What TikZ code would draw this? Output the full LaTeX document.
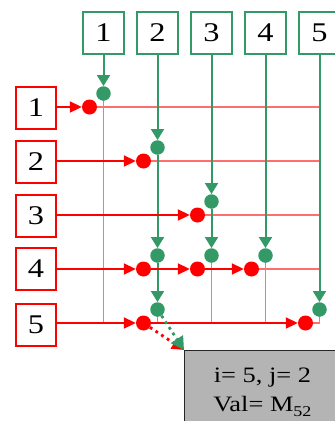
\documentclass[tikz,border=0pt]{standalone}
\usepackage{fontspec}
\setmainfont[FakeStretch=1.2]{Liberation Serif}
\usetikzlibrary{arrows.meta}
\definecolor{gr}{RGB}{51,153,102}
\definecolor{rd}{RGB}{255,0,0}
\definecolor{lgr}{RGB}{110,185,145}
\definecolor{lrd}{RGB}{255,110,110}
\definecolor{boxgray}{RGB}{180,180,180}
\begin{document}
\begin{tikzpicture}[x=1pt,y=-1pt,
  gbox/.style={draw=gr,line width=1.8pt,minimum width=41pt,minimum height=42pt,inner sep=0pt,font=\fontsize{27}{28}\selectfont},
  rbox/.style={draw=rd,line width=1.8pt,minimum width=40pt,minimum height=42pt,inner sep=0pt,font=\fontsize{27}{28}\selectfont},
  gdot/.style={circle,fill=gr,minimum size=14.5pt,inner sep=0pt},
  rdot/.style={circle,fill=rd,minimum size=15pt,inner sep=0pt},
  garr/.style={draw=gr,line width=2pt,-{Triangle[width=13pt,length=11pt]}},
  rarr/.style={draw=rd,line width=2pt,-{Triangle[width=11pt,length=12pt]}},
  gthin/.style={draw=lgr,line width=1.1pt},
  rthin/.style={draw=lrd,line width=1.1pt},
  gdotted/.style={draw=gr,line width=2.8pt,dash pattern=on 2.8pt off 4pt,-{Triangle[width=14pt,length=13pt]}},
  rdotted/.style={draw=rd,line width=2.8pt,dash pattern=on 2.8pt off 4pt,-{Triangle[width=12pt,length=12pt]}},
]
\useasboundingbox (0,0) rectangle (335,421);

% column header boxes
\node[gbox] (G1) at (103.5,33) {1};
\node[gbox] (G2) at (157.5,33) {2};
\node[gbox] (G3) at (211.5,33) {3};
\node[gbox] (G4) at (265.5,33) {4};
\node[gbox] (G5) at (319.5,33) {5};
% row header boxes
\node[rbox] (R1) at (36,108) {1};
\node[rbox] (R2) at (36,162) {2};
\node[rbox] (R3) at (36,216) {3};
\node[rbox] (R4) at (36,269) {4};
\node[rbox] (R5) at (36,325) {5};

% grid end coordinates
\coordinate (h1) at (319.5,107);
\coordinate (h2) at (319.5,161);
\coordinate (h3) at (319.5,215);
\coordinate (h4) at (319.5,269);
\coordinate (h5) at (319.5,323);
\coordinate (v1) at (103.5,323);
\coordinate (v2) at (157.5,323);
\coordinate (v3) at (211.5,323);
\coordinate (v4) at (265.5,323);
\coordinate (v5) at (319.5,323);

% dot positions
\coordinate (pg11) at (103.5,93.5);  \coordinate (pr11) at (89.5,107);
\coordinate (pg22) at (157.5,147.5); \coordinate (pr22) at (143.5,161);
\coordinate (pg33) at (211.5,201.5); \coordinate (pr33) at (197.5,215);
\coordinate (pg42) at (157.5,255.5); \coordinate (pr42) at (143.5,269);
\coordinate (pg43) at (211.5,255.5); \coordinate (pr43) at (197.5,269);
\coordinate (pg44) at (265.5,255.5); \coordinate (pr44) at (251.5,269);
\coordinate (pg52) at (157.5,309.5); \coordinate (pr52) at (143.5,323);
\coordinate (pg55) at (319.5,309.5); \coordinate (pr55) at (305.5,323);

% thin grid lines
\draw[rthin] (pr11) -- (h1);
\draw[rthin] (pr22) -- (h2);
\draw[rthin] (pr33) -- (h3);
\draw[rthin] (pr44) -- (h4);
\draw[rthin] (pr55) -- (h5);
\draw[gthin] (pg11) -- (v1);
\draw[gthin] (pg52) -- (v2);
\draw[gthin] (pg43) -- (v3);
\draw[gthin] (pg44) -- (v4);
\draw[gthin] (pg55) -- (v5);

% info box
\node[draw=black!85,fill=boxgray,line width=0.8pt,anchor=north west,
      minimum width=156pt,minimum height=84pt,inner sep=0pt,align=center,
      font=\fontsize{22}{29}\selectfont] (info) at (184,350)
      {i= 5, j= 2\\Val= M\raisebox{-5pt}{\fontsize{15}{15}\selectfont 52}};

% dot nodes
\node[gdot] (g11) at (pg11) {}; \node[rdot] (r11) at (pr11) {};
\node[gdot] (g22) at (pg22) {}; \node[rdot] (r22) at (pr22) {};
\node[gdot] (g33) at (pg33) {}; \node[rdot] (r33) at (pr33) {};
\node[gdot] (g42) at (pg42) {}; \node[rdot] (r42) at (pr42) {};
\node[gdot] (g43) at (pg43) {}; \node[rdot] (r43) at (pr43) {};
\node[gdot] (g44) at (pg44) {}; \node[rdot] (r44) at (pr44) {};
\node[gdot] (g52) at (pg52) {}; \node[rdot] (r52) at (pr52) {};
\node[gdot] (g55) at (pg55) {}; \node[rdot] (r55) at (pr55) {};

% green column arrows
\draw[garr] (G1) -- (g11);
\draw[garr] (G2) -- (g22);
\draw[garr] (g22) -- (g42);
\draw[garr] (g42) -- (g52);
\draw[garr] (G3) -- (g33);
\draw[garr] (g33) -- (g43);
\draw[garr] (G4) -- (g44);
\draw[garr] (G5) -- (g55);

% red row arrows
\draw[rarr] (R1.east |- r11) -- (r11);
\draw[rarr] (R2.east |- r22) -- (r22);
\draw[rarr] (R3.east |- r33) -- (r33);
\draw[rarr] (R4.east |- r42) -- (r42);
\draw[rarr] (r42) -- (r43);
\draw[rarr] (r43) -- (r44);
\draw[rarr] (R5.east |- r52) -- (r52);
\draw[rarr] (r52) -- (r55);

% dotted arrows to info box
\draw[rdotted] (r52) -- (info.north west);
\draw[gdotted] (g52) -- (info.north west);
\end{tikzpicture}
\end{document}
